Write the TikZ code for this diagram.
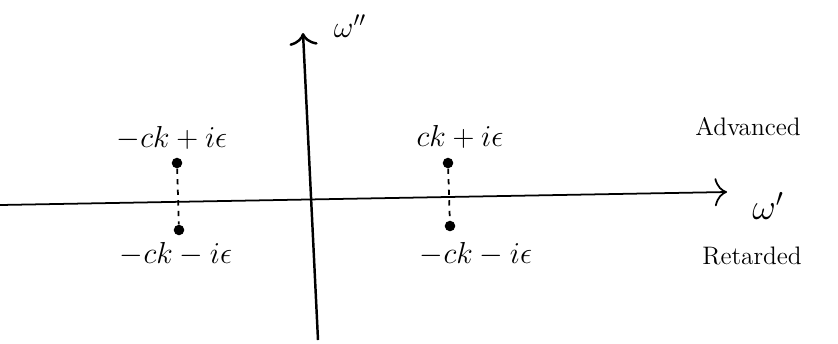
\documentclass[tikz,border=0pt]{standalone}
\usepackage{amsmath}
\usepackage{tikz}
\usetikzlibrary{positioning, arrows.meta}
\tikzset{
  axis/.style={line width=1pt, -{To[length=7pt, width=16pt]}},
  pole/.style={circle, fill, inner sep=0pt, minimum size=6pt},
  cut/.style={dashed, line width=1pt},
  lab/.style={font=\LARGE},
  word/.style={font=\Large}}

\begin{document}
\begin{tikzpicture}[x=0.02cm, y=-0.02cm]
\useasboundingbox (0,0) rectangle (838,343);
	\coordinate (xl) at (0,205);
	\coordinate (xr) at (727,192);
	\coordinate (yb) at (318,340);
	\coordinate (yt) at (303,33);
		\draw [axis] (xl) -- (xr);
		\draw [axis, line width=1.4pt] (yb) -- (yt);
	\node [lab] (wpp) at (350,26) {$\omega''$};
	\node [lab, font=\huge] (wp) at (768,206) {$\omega'$};
	% poles
	\node [pole] (la) at (177,163) {};
	\node [pole] (lr) at (179,230) {};
	\node [pole] (ra) at (448,163) {};
	\node [pole] (rr) at (450,226) {};
		\draw [cut] (la) -- (lr);
		\draw [cut] (ra) -- (rr);
	\node [lab] (lat) at (172,138) {$-ck+i\epsilon$};
	\node [lab] (lrt) at (176,254) {$-ck-i\epsilon$};
	\node [lab] (rat) at (460,137) {$ck+i\epsilon$};
	\node [lab] (rrt) at (476,254) {$-ck-i\epsilon$};
	\node [word] (adv) at (748,127) {Advanced};
	\node [word] (ret) at (752,256) {Retarded};
\end{tikzpicture}
\end{document}
